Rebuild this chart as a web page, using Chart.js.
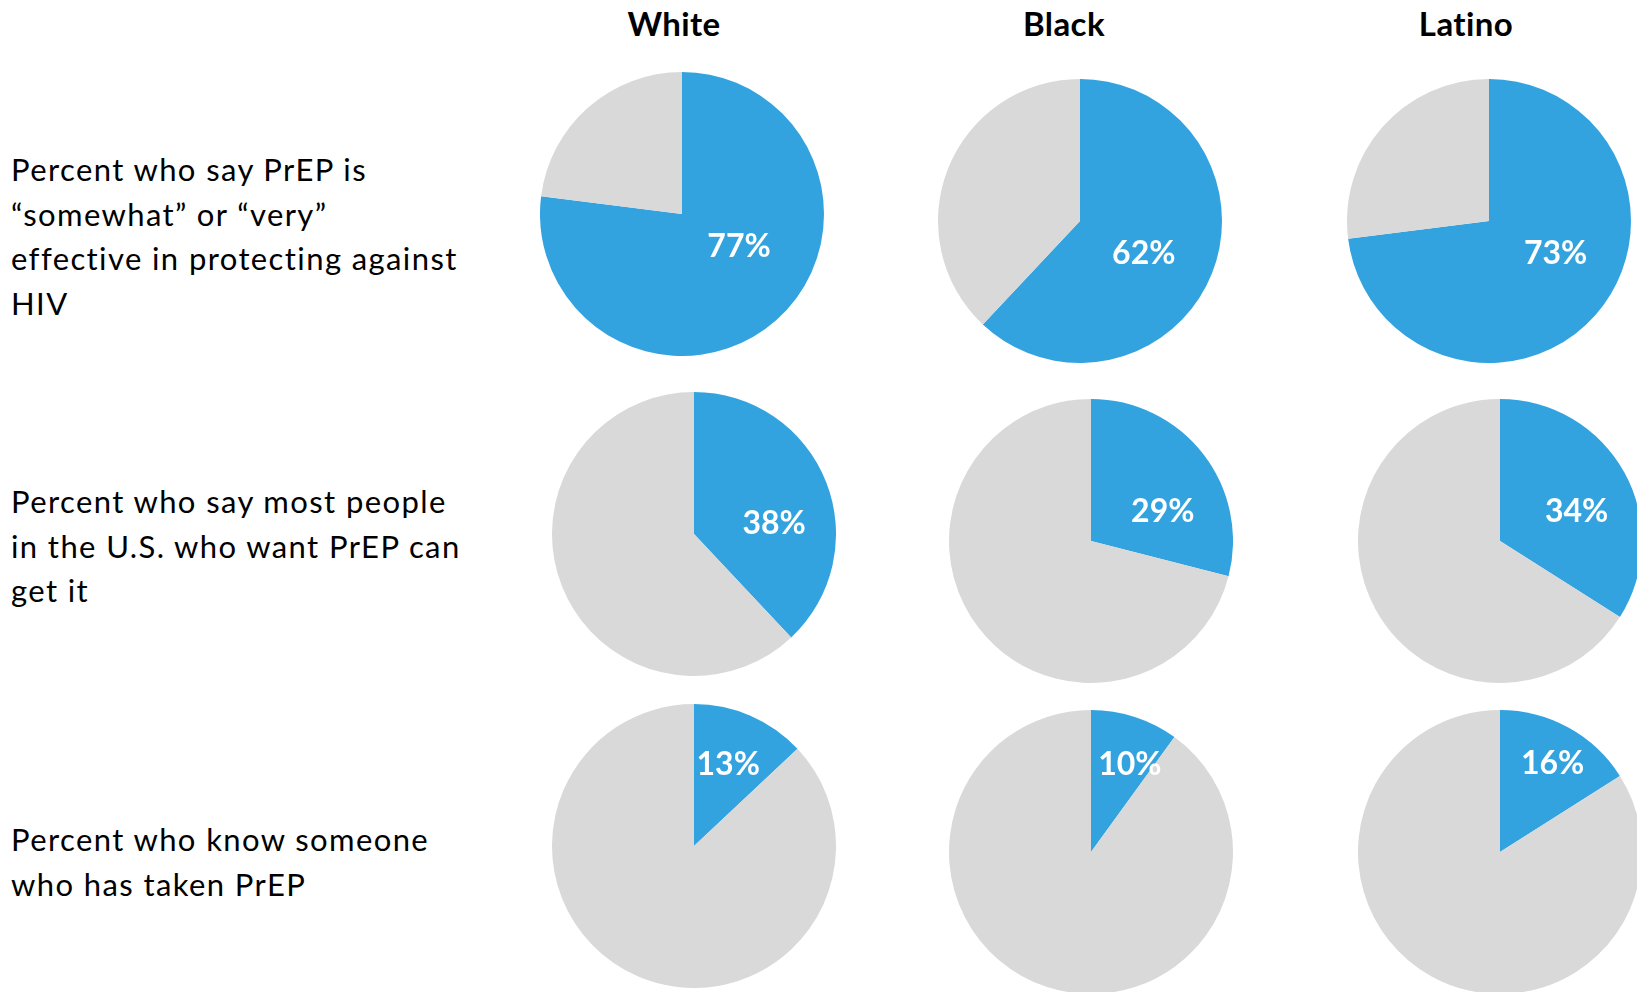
<!DOCTYPE html>
<html>
<head>
<meta charset="utf-8">
<script src="https://cdn.jsdelivr.net/npm/chart.js@4"></script>
<style>
  html, body { margin: 0; padding: 0; background: #fff; overflow: hidden; }
  body { width: 1637px; height: 992px; position: relative; font-family: Lato, "Open Sans", sans-serif; }
  .pie { position: absolute; }
  .head { position: absolute; top: 3px; font-weight: bold; font-size: 33px; letter-spacing: 0.4px; color: #000; transform: translateX(-50%); white-space: nowrap; }
  .question { position: absolute; left: 11px; font-size: 31px; letter-spacing: 1.4px; line-height: 44.5px; color: #000; white-space: nowrap; }
</style>
</head>
<body>
<script>
// PrEP survey pies - one Chart.js pie per group/question

const groups = ['White', 'Black', 'Latino'];
const questions = [
    ['Percent who say PrEP is', '\u201csomewhat\u201d or \u201cvery\u201d', 'effective in protecting against', 'HIV'],
    ['Percent who say most people', 'in the U.S. who want PrEP can', 'get it'],
    ['Percent who know someone', 'who has taken PrEP']
];
const effective = [77, 62, 73];
const canGetIt = [38, 29, 34];
const knowSomeone = [13, 10, 16];
const values = [effective, canGetIt, knowSomeone];

const BLUE = '#33A3E0';
const GRAY = '#D9D9D9';
const RADIUS = 142;

// layout: pie centres, heading centres, question label tops
const pieCentres = [
    [[682, 214], [1080, 221], [1489, 221]],
    [[694, 534], [1091, 541], [1500, 541]],
    [[694, 846], [1091, 852], [1500, 852]]
];
const headX = [674, 1064, 1466];
const questionTop = [147, 479, 817];
// where the % label sits: [fraction along the slice angle, fraction of radius]
const labelSpots = [
    [[0.43, 0.46], [0.52, 0.50], [0.44, 0.52]],
    [[0.60, 0.57], [0.64, 0.55], [0.56, 0.58]],
    [[0.48, 0.63], [0.66, 0.68], [0.53, 0.73]]
];

const sliceLabel = {
    id: 'sliceLabel',
    afterDatasetsDraw(chart, args, opts) {
        const arc = chart.getDatasetMeta(0).data[0];
        const v = chart.data.datasets[0].data[0];
        const a = arc.startAngle + opts.at[0] * (arc.endAngle - arc.startAngle);
        const r = arc.outerRadius * opts.at[1];
        const ctx = chart.ctx;
        ctx.save();
        ctx.fillStyle = '#fff';
        ctx.font = 'bold 32px Lato, "Open Sans", sans-serif';
        ctx.textAlign = 'center';
        ctx.textBaseline = 'middle';
        ctx.fillText(v + '%', arc.x + Math.cos(a) * r, arc.y + Math.sin(a) * r + 1);
        ctx.restore();
    }
};

groups.forEach(function(g, i) {
    const h = document.createElement('div');
    h.className = 'head';
    h.style.left = headX[i] + 'px';
    h.textContent = g;
    document.body.appendChild(h);
});

questions.forEach(function(lines, row) {
    const q = document.createElement('div');
    q.className = 'question';
    q.style.top = questionTop[row] + 'px';
    q.innerHTML = lines.join('<br>');
    document.body.appendChild(q);

    groups.forEach(function(g, col) {
        const c = pieCentres[row][col];
        const canvas = document.createElement('canvas');
        canvas.className = 'pie';
        canvas.width = RADIUS * 2;
        canvas.height = RADIUS * 2;
        canvas.style.left = (c[0] - RADIUS) + 'px';
        canvas.style.top = (c[1] - RADIUS) + 'px';
        document.body.appendChild(canvas);

        const v = values[row][col];
        new Chart(canvas, {
            type: 'pie',
            data: {
                labels: ['Yes', 'Other'],
                datasets: [{
                    data: [v, 100 - v],
                    backgroundColor: [BLUE, GRAY],
                    borderWidth: 0
                }]
            },
            options: {
                responsive: false,
                animation: false,
                layout: { padding: 0 },
                plugins: {
                    legend: { display: false },
                    tooltip: { enabled: false },
                    sliceLabel: { at: labelSpots[row][col] }
                }
            },
            plugins: [sliceLabel]
        });
    });
});
</script>
</body>
</html>
